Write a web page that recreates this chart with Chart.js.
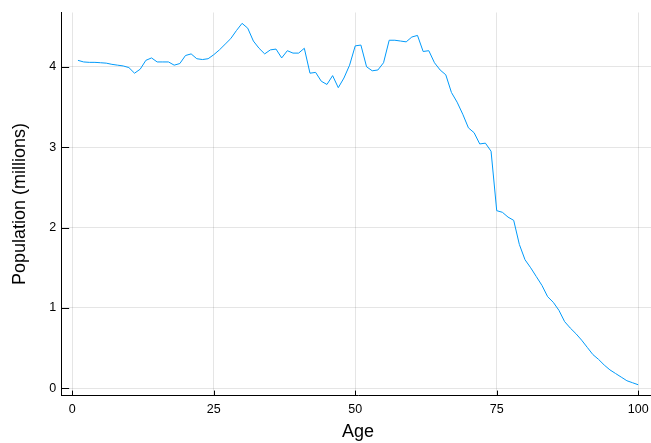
<!DOCTYPE html>
<html>
<head>
<meta charset="utf-8">
<script src="https://cdn.jsdelivr.net/npm/chart.js@4/dist/chart.umd.min.js"></script>
<style>
  html, body { margin: 0; padding: 0; background: #fff; overflow: hidden; width: 651px; height: 443px; }
  canvas { display: block; }
</style>
</head>
<body>
<canvas id="c" width="656" height="443"></canvas>
<script>
// ---- data ----
const ages = [];
for (let a = 1; a <= 100; a++) ages.push(a);
const population = [
  4.08, 4.06, 4.055, 4.055, 4.05, 4.045, 4.03, 4.02, 4.01, 3.99,
  3.92, 3.97, 4.08, 4.11, 4.06, 4.06, 4.06, 4.02, 4.04, 4.14,
  4.16, 4.10, 4.09, 4.10, 4.15, 4.21, 4.28, 4.35, 4.45, 4.54,
  4.48, 4.32, 4.23, 4.16, 4.21, 4.22, 4.11, 4.20, 4.17, 4.17,
  4.23, 3.92, 3.93, 3.82, 3.78, 3.89, 3.74, 3.86, 4.02, 4.26,
  4.27, 4.00, 3.95, 3.96, 4.05, 4.33, 4.33, 4.32, 4.31, 4.37,
  4.39, 4.19, 4.20, 4.05, 3.96, 3.90, 3.68, 3.56, 3.41, 3.24,
  3.18, 3.04, 3.05, 2.95, 2.21, 2.19, 2.13, 2.09, 1.79, 1.60,
  1.50, 1.39, 1.28, 1.14, 1.07, 0.97, 0.83, 0.75, 0.68, 0.60,
  0.51, 0.42, 0.36, 0.29, 0.23, 0.185, 0.14, 0.095, 0.07, 0.045
];
const xTicks = [0, 25, 50, 75, 100];
const yTicks = [0, 1, 2, 3, 4];
const xTitle = 'Age';
const yTitle = 'Population (millions)';

const FONT = '"Liberation Sans", Arial, Helvetica, sans-serif';

const tickMarks = {
  id: 'tickMarks',
  afterDraw(chart) {
    const {ctx, chartArea: ca} = chart;
    const xs = chart.scales.x, ys = chart.scales.y;
    ctx.save();
    ctx.strokeStyle = '#000';
    ctx.lineWidth = 1;
    ctx.beginPath();
    xTicks.forEach(v => {
      const px = Math.round(xs.getPixelForValue(v)) + 0.5;
      ctx.moveTo(px, ca.bottom);
      ctx.lineTo(px, ca.bottom - 5);
    });
    yTicks.forEach(v => {
      const py = Math.round(ys.getPixelForValue(v)) + 0.5;
      ctx.moveTo(ca.left, py);
      ctx.lineTo(ca.left + 8, py);
    });
    ctx.stroke();
    ctx.restore();
  }
};

new Chart(document.getElementById('c'), {
  type: 'line',
  data: {
    datasets: [{
      data: ages.map((a, i) => ({x: a, y: population[i]})),
      borderColor: '#009AFA',
      borderWidth: 1,
      pointRadius: 0,
      tension: 0,
      fill: false
    }]
  },
  options: {
    responsive: false,
    animation: false,
    devicePixelRatio: 1,
    layout: { padding: { top: 9.6, right: 1, left: 0, bottom: 0 } },
    plugins: { legend: { display: false }, tooltip: { enabled: false } },
    scales: {
      x: {
        type: 'linear',
        min: -1.97,
        max: 102.97,
        afterBuildTicks(s) { s.ticks = xTicks.map(v => ({value: v})); },
        afterFit(s) { s.height = 47.4; },
        grid: { color: 'rgba(0,0,0,0.1)', lineWidth: 1, drawTicks: false },
        border: { display: true, color: '#000', width: 1 },
        ticks: { padding: 6, color: '#000', font: { family: FONT, size: 12.5 }, maxRotation: 0 },
        title: { display: true, text: xTitle, color: '#000', font: { family: FONT, size: 18 }, padding: { top: 0, bottom: 0.2 } }
      },
      y: {
        type: 'linear',
        min: -0.09,
        max: 4.675,
        afterBuildTicks(s) { s.ticks = yTicks.map(v => ({value: v})); },
        afterFit(s) { s.width = 61.15; },
        grid: { color: 'rgba(0,0,0,0.1)', lineWidth: 1, drawTicks: false },
        border: { display: true, color: '#000', width: 1 },
        ticks: { padding: 5, color: '#000', font: { family: FONT, size: 12.5 } },
        title: { display: true, text: yTitle, color: '#000', font: { family: FONT, size: 18 }, padding: { top: 9, bottom: 0 } }
      }
    }
  },
  plugins: [tickMarks]
});
</script>
</body>
</html>
